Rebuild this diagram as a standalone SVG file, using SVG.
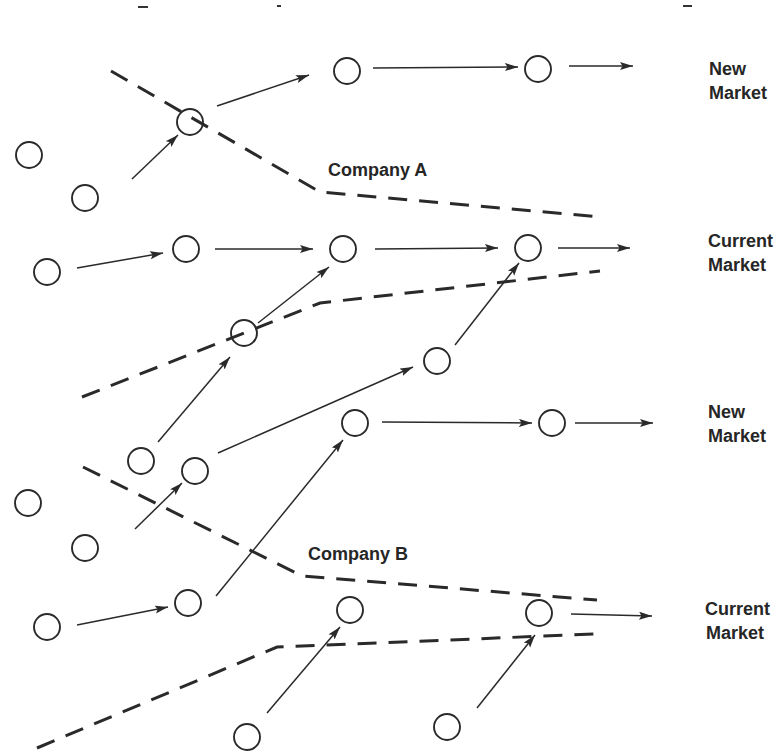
<svg xmlns="http://www.w3.org/2000/svg" width="778" height="753" viewBox="0 0 778 753">
  <defs>
    <marker id="ah" markerUnits="userSpaceOnUse" markerWidth="14" markerHeight="10" refX="13" refY="4" orient="auto">
      <path d="M0,0 L13,4 L0,8 L2.5,4 z" fill="#2a2a2a"/>
    </marker>
    <style>
      .n { fill: none; stroke: #2a2a2a; stroke-width: 1.9; }
      .c { fill: none; stroke: #2a2a2a; stroke-width: 1.5; marker-end: url(#ah); }
      .d { fill: none; stroke: #2a2a2a; stroke-width: 3; stroke-dasharray: 19 12; }
      .t { font-family: "Liberation Sans", Arial, sans-serif; font-size: 18px; font-weight: bold; fill: #262626; }
      .m { stroke: #333; stroke-width: 2; }
    </style>
  </defs>
  <rect width="778" height="753" fill="#ffffff"/>

  <g id="scan-marks">
    <line class="m" x1="138" y1="7" x2="148" y2="7"/>
    <line class="m" x1="277" y1="6" x2="281" y2="6"/>
    <line class="m" x1="683" y1="6" x2="692" y2="6"/>
  </g>

  <g id="boundaries">
    <polyline class="d" points="111,71 320,192 602,217"/>
    <polyline class="d" points="82,397 320,303 600,271"/>
    <polyline class="d" points="83,467 302,576 597,600"/>
    <polyline class="d" points="37,748 277,647 595,634"/>
  </g>

  <g id="connectors">
    <line class="c" x1="217" y1="106" x2="309" y2="75"/>
    <line class="c" x1="373" y1="68" x2="518" y2="67"/>
    <line class="c" x1="569" y1="66" x2="633" y2="66"/>
    <line class="c" x1="132" y1="179" x2="178" y2="135"/>
    <line class="c" x1="77" y1="268" x2="163" y2="253"/>
    <line class="c" x1="215" y1="249" x2="313" y2="249"/>
    <line class="c" x1="375" y1="249" x2="498" y2="248"/>
    <line class="c" x1="558" y1="248" x2="630" y2="248"/>
    <line class="c" x1="258" y1="323" x2="329" y2="267"/>
    <line class="c" x1="158" y1="442" x2="230" y2="357"/>
    <line class="c" x1="218" y1="453" x2="413" y2="367"/>
    <line class="c" x1="455" y1="345" x2="519" y2="263"/>
    <line class="c" x1="382" y1="422" x2="532" y2="423"/>
    <line class="c" x1="575" y1="423" x2="653" y2="423"/>
    <line class="c" x1="135" y1="529" x2="182" y2="483"/>
    <line class="c" x1="77" y1="625" x2="168" y2="607"/>
    <line class="c" x1="216" y1="596" x2="343" y2="440"/>
    <line class="c" x1="267" y1="713" x2="340" y2="627"/>
    <line class="c" x1="571" y1="614" x2="652" y2="616"/>
    <line class="c" x1="477" y1="708" x2="535" y2="635"/>
  </g>

  <g id="n1"><circle class="n" cx="347" cy="71" r="13"/></g>
  <g id="n2"><circle class="n" cx="538" cy="69" r="13"/></g>
  <g id="n3"><circle class="n" cx="190" cy="122" r="13"/></g>
  <g id="n4"><circle class="n" cx="29" cy="155" r="13"/></g>
  <g id="n5"><circle class="n" cx="85" cy="198" r="13"/></g>
  <g id="n6"><circle class="n" cx="47" cy="272" r="13"/></g>
  <g id="n7"><circle class="n" cx="186" cy="249" r="13"/></g>
  <g id="n8"><circle class="n" cx="343" cy="249" r="13"/></g>
  <g id="n9"><circle class="n" cx="528" cy="248" r="13"/></g>
  <g id="n10"><circle class="n" cx="244" cy="333" r="13"/></g>
  <g id="n11"><circle class="n" cx="437" cy="361" r="13"/></g>
  <g id="n12"><circle class="n" cx="141" cy="461" r="13"/></g>
  <g id="n13"><circle class="n" cx="195" cy="471" r="13"/></g>
  <g id="n14"><circle class="n" cx="355" cy="423" r="13"/></g>
  <g id="n15"><circle class="n" cx="552" cy="423" r="13"/></g>
  <g id="n16"><circle class="n" cx="28" cy="503" r="13"/></g>
  <g id="n17"><circle class="n" cx="85" cy="548" r="13"/></g>
  <g id="n18"><circle class="n" cx="188" cy="603" r="13"/></g>
  <g id="n19"><circle class="n" cx="47" cy="627" r="13"/></g>
  <g id="n20"><circle class="n" cx="350" cy="610" r="13"/></g>
  <g id="n21"><circle class="n" cx="539" cy="613" r="13"/></g>
  <g id="n22"><circle class="n" cx="247" cy="737" r="13"/></g>
  <g id="n23"><circle class="n" cx="447" cy="727" r="13"/></g>

  <g id="label-company-a"><text class="t" x="328" y="176">Company A</text></g>
  <g id="label-company-b"><text class="t" x="308" y="560">Company B</text></g>
  <g id="label-new-market-1"><text class="t" x="709" y="75">New</text><text class="t" x="709" y="99">Market</text></g>
  <g id="label-current-market-1"><text class="t" x="708" y="247">Current</text><text class="t" x="708" y="271">Market</text></g>
  <g id="label-new-market-2"><text class="t" x="708" y="418">New</text><text class="t" x="708" y="442">Market</text></g>
  <g id="label-current-market-2"><text class="t" x="705" y="615">Current</text><text class="t" x="706" y="639">Market</text></g>
</svg>
